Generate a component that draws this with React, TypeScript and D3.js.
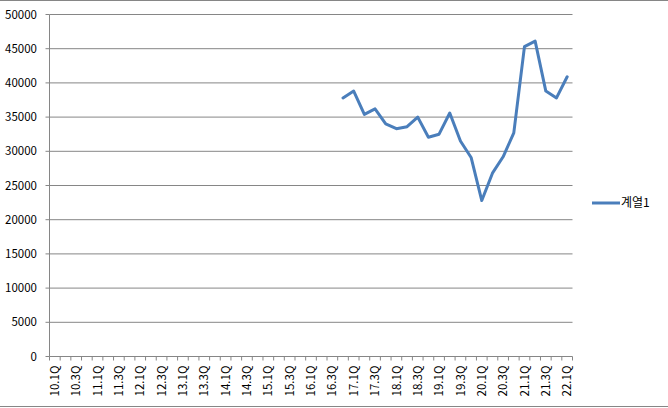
import React from "react";
import * as d3 from "d3";

const years = [10, 11, 12, 13, 14, 15, 16, 17, 18, 19, 20, 21, 22];
const categories: string[] = [];
years.forEach((y) => {
  for (let q = 1; q <= 4; q++) {
    if (y === 22 && q > 1) break;
    categories.push(`${y}.${q}Q`);
  }
});
const seriesName = "계열1";
const dataCategories = [
  "16.4Q", "17.1Q", "17.2Q", "17.3Q", "17.4Q", "18.1Q", "18.2Q", "18.3Q", "18.4Q",
  "19.1Q", "19.2Q", "19.3Q", "19.4Q", "20.1Q", "20.2Q", "20.3Q", "20.4Q",
  "21.1Q", "21.2Q", "21.3Q", "21.4Q", "22.1Q",
];
const values = [
  37800, 38800, 35400, 36200, 34000, 33300, 33600, 35000, 32050,
  32500, 35600, 31500, 29100, 22800, 26800, 29200, 32700,
  45300, 46100, 38800, 37800, 40900,
];
const yTicks = [0, 5000, 10000, 15000, 20000, 25000, 30000, 35000, 40000, 45000, 50000];

export default function App() {
  const W = 668, H = 408;
  const left = 49.5, right = 572.5, top = 14.5, bottom = 356.5;
  const x = d3.scaleBand<string>().domain(categories).range([left, right]).padding(0);
  const y = d3.scaleLinear().domain([0, 50000]).range([bottom, top]);
  const line = d3
    .line<number>()
    .x((_, i) => (x(dataCategories[i]) as number) + x.bandwidth() / 2)
    .y((d) => y(d));
  const grid = "#868686";
  const font = "'Noto Sans CJK KR', 'Liberation Sans', sans-serif";
  return (
    <svg width={W} height={H} style={{ position: "absolute", left: 0, top: 0, background: "#fff" }}>
      <line x1={0} x2={W} y1={0.5} y2={0.5} stroke={grid} />
      <line x1={0} x2={W} y1={406.5} y2={406.5} stroke={grid} />
      {yTicks.map((t) => (
        <g key={t}>
          {t > 0 && <line x1={left} x2={right} y1={y(t)} y2={y(t)} stroke={grid} />}
          <line x1={left - 4} x2={left} y1={y(t)} y2={y(t)} stroke={grid} />
          <text x={37} y={y(t)} dy="0.36em" textAnchor="end" fontSize={11.5} fontFamily={font} fill="#000">
            {t}
          </text>
        </g>
      ))}
      <line x1={left} x2={left} y1={top} y2={bottom} stroke={grid} />
      <line x1={left} x2={right} y1={bottom} y2={bottom} stroke={grid} />
      {categories.map((c) => (
        <line key={"t" + c} x1={x(c)} x2={x(c)} y1={bottom} y2={bottom + 4} stroke={grid} />
      ))}
      <line x1={right} x2={right} y1={bottom} y2={bottom + 4} stroke={grid} />
      {categories.map((c, i) =>
        i % 2 === 0 ? (
          <text
            key={"l" + c}
            transform={`translate(${(x(c) as number) + x.bandwidth() / 2},${bottom + 9}) rotate(-90)`}
            textAnchor="end"
            dy="0.36em"
            fontSize={11.5}
            fontFamily={font}
            fill="#000"
          >
            {c}
          </text>
        ) : null
      )}
      <path d={line(values) || ""} fill="none" stroke="#4a7ebb" strokeWidth={3} strokeLinejoin="round" strokeLinecap="round" />
      <line x1={592} x2={620} y1={203} y2={203} stroke="#4a7ebb" strokeWidth={3} />
      <text x={621} y={203} dy="0.36em" fontSize={12} fontFamily={font} fill="#000">
        {seriesName}
      </text>
    </svg>
  );
}
